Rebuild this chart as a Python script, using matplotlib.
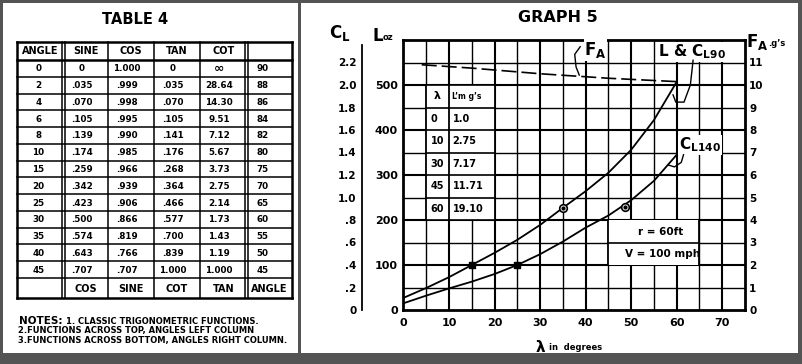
import matplotlib
matplotlib.use("Agg")
import matplotlib.pyplot as plt
from matplotlib.patches import Rectangle

plt.rcParams['font.family'] = ['DejaVu Sans']
plt.rcParams['font.weight'] = 'bold'
plt.rcParams['mathtext.fontset'] = 'dejavusans'
plt.rcParams['mathtext.default'] = 'bf'

# ---------------- data: Table 4 ----------------
table_title = "TABLE 4"
header_top = ["ANGLE", "SINE", "COS", "TAN", "COT", ""]
header_bottom = ["", "COS", "SINE", "COT", "TAN", "ANGLE"]
angles_left = ["0", "2", "4", "6", "8", "10", "15", "20", "25", "30", "35", "40", "45"]
sine_vals = ["0", ".035", ".070", ".105", ".139", ".174", ".259", ".342", ".423", ".500", ".574", ".643", ".707"]
cos_vals = ["1.000", ".999", ".998", ".995", ".990", ".985", ".966", ".939", ".906", ".866", ".819", ".766", ".707"]
tan_vals = ["0", ".035", ".070", ".105", ".141", ".176", ".268", ".364", ".466", ".577", ".700", ".839", "1.000"]
cot_vals = ["\u221e", "28.64", "14.30", "9.51", "7.12", "5.67", "3.73", "2.75", "2.14", "1.73", "1.43", "1.19", "1.000"]
angles_right = ["90", "88", "86", "84", "82", "80", "75", "70", "65", "60", "55", "50", "45"]
notes_head = "NOTES:"
notes = ["1. CLASSIC TRIGONOMETRIC FUNCTIONS.",
         "2.FUNCTIONS ACROSS TOP, ANGLES LEFT COLUMN",
         "3.FUNCTIONS ACROSS BOTTOM, ANGLES RIGHT COLUMN."]

# ---------------- data: Graph 5 ----------------
graph_title = "GRAPH 5"
lam_upper = [0, 5, 10, 15, 20, 25, 30, 35, 40, 45, 50, 55, 60]
L_upper = [27, 49, 73, 100, 127, 156, 189, 227, 264, 305, 356, 422, 507]
lam_lower = [0, 5, 10, 15, 20, 25, 30, 35, 40, 45, 50, 55, 60]
L_lower = [15, 32, 48, 63, 80, 100, 124, 152, 183, 210, 244, 287, 345]
lam_fa = [4, 15, 30, 45, 60]
fa_g = [10.9, 10.75, 10.5, 10.3, 10.15]
mark_fill_lam = [15, 25]
mark_fill_L = [100, 100]
mark_open_lam = [35, 48.6]
mark_open_L = [227, 229]
inset_lam = ["0", "10", "30", "45", "60"]
inset_g = ["1.0", "2.75", "7.17", "11.71", "19.10"]
x_ticks = [0, 10, 20, 30, 40, 50, 60, 70]
L_ticks = [0, 100, 200, 300, 400, 500]
cl_ticks = [0, 0.2, 0.4, 0.6, 0.8, 1.0, 1.2, 1.4, 1.6, 1.8, 2.0, 2.2]
cl_labels = ["0", ".2", ".4", ".6", ".8", "1.0", "1.2", "1.4", "1.6", "1.8", "2.0", "2.2"]
fa_ticks = [0, 1, 2, 3, 4, 5, 6, 7, 8, 9, 10, 11]
cond_text = ["r = 60ft", "V = 100 mph"]

W, H = 802, 364
fig = plt.figure(figsize=(W / 100, H / 100), dpi=100)
fig.patch.set_facecolor('white')

# background axes in pixel coordinates
bg = fig.add_axes([0, 0, 1, 1])
bg.set_xlim(0, W)
bg.set_ylim(H, 0)
bg.axis('off')

frame_c = '#545454'
for (x, y, w, h) in [(0, 0, W, 3), (0, 0, 3, H), (W - 4, 0, 4, H), (0, 353, W, H - 353), (298, 0, 3, H)]:
    bg.add_patch(Rectangle((x, y), w, h, color=frame_c, lw=0))

# ---- Table 4 ----
bg.text(135, 20, table_title, ha='center', va='center', fontsize=10.5)
col_x = [17, 63.5, 108, 154, 200, 246.5, 292]
row_y = [42, 60] + [60 + (278 - 60) * (i + 1) / 13 for i in range(13)] + [298]
for i, yy in enumerate(row_y):
    lw = 1.8 if i in (0, 1, len(row_y) - 1) else 1.1
    bg.plot([col_x[0], col_x[-1]], [yy, yy], color='black', lw=lw)
for j, xx in enumerate(col_x):
    if j in (1, 5):
        for dx in (-1.6, 1.6):
            bg.plot([xx + dx, xx + dx], [row_y[0], row_y[-1]], color='black', lw=1.1)
    else:
        bg.plot([xx, xx], [row_y[0], row_y[-1]], color='black', lw=1.8 if j in (0, 6) else 1.1)

centers = [(col_x[j] + col_x[j + 1]) / 2 for j in range(6)]
for j, t in enumerate(header_top):
    bg.text(centers[j], (row_y[0] + row_y[1]) / 2 + 0.5, t, ha='center', va='center', fontsize=7)
for j, t in enumerate(header_bottom):
    bg.text(centers[j], (row_y[-2] + row_y[-1]) / 2 + 0.5, t, ha='center', va='center', fontsize=7)
cols = [angles_left, sine_vals, cos_vals, tan_vals, cot_vals, angles_right]
offs = [-2, -4, -4, -4, -4, -7]
for j, col in enumerate(cols):
    for i, t in enumerate(col):
        yc = (row_y[i + 1] + row_y[i + 2]) / 2 + 0.5
        fs = 9 if t == "\u221e" else 6.3
        bg.text(centers[j] + offs[j], yc, t, ha='center', va='center', fontsize=fs)

bg.text(19, 321, notes_head, ha='left', va='center', fontsize=7.5)
bg.text(66, 321.5, notes[0], ha='left', va='center', fontsize=6)
bg.text(18, 331, notes[1], ha='left', va='center', fontsize=6)
bg.text(18, 341, notes[2], ha='left', va='center', fontsize=6)

# ---- Graph 5 ----
x0, x1, y0, y1 = 403.5, 745, 310, 40
ax = fig.add_axes([x0 / W, 1 - y0 / H, (x1 - x0) / W, (y0 - y1) / H])
ax.set_xlim(0, 75)
ax.set_ylim(0, 600)
ax.set_facecolor('none')

for v in range(5, 75, 5):
    ax.plot([v, v], [0, 600], color='black', lw=1.5 if v % 10 == 0 else 1.0, zorder=1)
for h in range(50, 600, 50):
    ax.plot([0, 75], [h, h], color='black', lw=1.5 if h % 100 == 0 else 1.0, zorder=1)


def white_box(l0, l1, b0, b1, inner_h):
    ax.add_patch(Rectangle((l0, b0), l1 - l0, b1 - b0, facecolor='white', edgecolor='none', zorder=2))
    for h in inner_h:
        ax.plot([l0, l1], [h, h], color='black', lw=1.2, zorder=3)
    for v in (l0, l1):
        ax.plot([v, v], [b0, b1], color='black', lw=1.3, zorder=3)


# inset table
white_box(5, 20, 200, 500, range(200, 501, 50))
ax.plot([10, 10], [200, 500], color='black', lw=1.3, zorder=3)
ax.text(7.5, 475, "\u03bb", ha='center', va='center', fontsize=8, zorder=4)
ax.text(10.6, 475, "L\u2019m g\u2019s", ha='left', va='center', fontsize=5.5, zorder=4)
for i, (a, g) in enumerate(zip(inset_lam, inset_g)):
    yc = 425 - 50 * i
    ax.text(6.0, yc, a, ha='left', va='center', fontsize=7, zorder=4)
    ax.text(10.8, yc, g, ha='left', va='center', fontsize=7, zorder=4)

# condition box
white_box(45, 65, 100, 200, [150])
ax.text(56.5, 174, cond_text[0], ha='center', va='center', fontsize=7.5, zorder=4)
ax.text(57.0, 125, cond_text[1], ha='center', va='center', fontsize=7.5, zorder=4)

# curves
ax.plot(lam_upper, L_upper, color='black', lw=1.3, zorder=5)
ax.plot(lam_lower, L_lower, color='black', lw=1.3, zorder=5)
ax.scatter(mark_fill_lam, mark_fill_L, marker='s', s=22, color='black', zorder=6)
ax.scatter(mark_open_lam, mark_open_L, marker='o', s=30, facecolor='white', edgecolor='black', lw=1.2, zorder=6)
ax.scatter(mark_open_lam, mark_open_L, marker='o', s=4, color='black', zorder=7)

for s in ax.spines.values():
    s.set_linewidth(2.0)
ax.set_xticks(x_ticks)
ax.set_xticklabels([str(v) for v in x_ticks], fontsize=8)
ax.set_yticks(L_ticks)
ax.set_yticklabels([str(v) for v in L_ticks], fontsize=8)
ax.tick_params(axis='both', length=0)
ax.tick_params(axis='x', pad=6)
ax.tick_params(axis='y', pad=4)

# F_A right axis
axf = ax.twinx()
axf.set_ylim(0, 12)
axf.set_yticks(fa_ticks)
axf.set_yticklabels([str(v) for v in fa_ticks], fontsize=7.5)
axf.tick_params(axis='y', length=0, pad=3)
for s in axf.spines.values():
    s.set_visible(False)
axf.plot(lam_fa, fa_g, color='black', lw=1.2, dashes=(9, 3), zorder=5)

# C_L left axis
axc = ax.twinx()
axc.set_ylim(0, 2.4)
axc.yaxis.set_ticks_position('left')
axc.spines['left'].set_position(('axes', (362 - x0) / (x1 - x0)))
axc.spines['left'].set_linewidth(1.3)
axc.spines['left'].set_bounds(0, 2.36)
for k in ('top', 'right', 'bottom'):
    axc.spines[k].set_visible(False)
axc.set_yticks(cl_ticks)
axc.set_yticklabels(cl_labels, fontsize=7.5)
axc.tick_params(axis='y', length=0, pad=4)

# axis titles
bg.text(340, 33, "$C_L$", ha='center', va='center', fontsize=12)
bg.text(372, 36, "L", ha='left', va='center', fontsize=12)
bg.text(383, 37, "oz", ha='left', va='center', fontsize=6)
bg.text(746, 42, "$F_A$", ha='left', va='center', fontsize=12)
bg.text(768, 44, ".g\u2019s", ha='left', va='center', fontsize=6)
bg.text(558, 17, graph_title, ha='center', va='center', fontsize=11.5)
bg.text(540, 347, "\u03bb", ha='center', va='center', fontsize=11)
bg.text(549, 348, "in  degrees", ha='left', va='center', fontsize=6)

# annotations
ax.text(39.7, 578, "$F_A$", ha='left', va='center', fontsize=12, zorder=8,
        bbox=dict(facecolor='white', edgecolor='none', pad=0.5))
ax.plot([38.8, 37.6, 37.9, 38.6], [585, 568, 540, 522], color='black', lw=1.0, zorder=8)
ax.text(56.0, 574, "L & $C_{L90}$", ha='left', va='center', fontsize=11, zorder=8,
        bbox=dict(facecolor='white', edgecolor='none', pad=0.5))
ax.plot([63.6, 63.0, 61.6, 59.8, 59.2], [555, 500, 462, 462, 478], color='black', lw=1.0, zorder=8)
ax.text(60.5, 367, "$C_{L140}$", ha='left', va='center', fontsize=11, zorder=8,
        bbox=dict(facecolor='white', edgecolor='none', pad=0.5))
ax.plot([61.5, 61.0, 59.5, 58.2], [345, 328, 318, 322], color='black', lw=1.0, zorder=8)

fig.savefig("out.png", dpi=100)
